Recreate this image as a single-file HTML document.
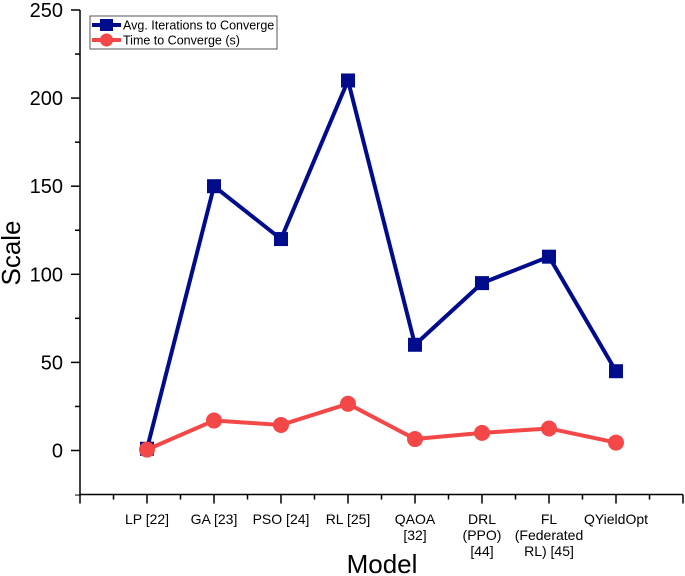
<!DOCTYPE html>
<html><head><meta charset="utf-8">
<style>
html,body{margin:0;padding:0;background:#fff;}
svg{display:block;font-family:"Liberation Sans",Arial,sans-serif;}
</style></head>
<body>
<svg id="chart" width="685" height="576" viewBox="0 0 685 576" xmlns="http://www.w3.org/2000/svg">
<g id="axes"></g>
<g id="series"></g>
<g>
  <rect x="90" y="16" width="187" height="33" fill="#fff" stroke="#555" stroke-width="1"/>
  <g>
    <line x1="92" y1="25" x2="121" y2="25" stroke="#000c8c" stroke-width="4"/>
    <rect x="100" y="19" width="13" height="12" fill="#000c8c"/>
    <text x="123" y="29.5" font-size="12.5" fill="#000">Avg. Iterations to Converge</text>
  </g>
  <g>
    <line x1="92" y1="40" x2="121" y2="40" stroke="#f44848" stroke-width="4"/>
    <circle cx="106.5" cy="40" r="6.5" fill="#f44848"/>
    <text x="123" y="44.5" font-size="12.5" fill="#000">Time to Converge (s)</text>
  </g>
</g>
<text transform="translate(20,253) rotate(-90)" text-anchor="middle" font-size="26" fill="#000">Scale</text>
<text x="382" y="573" text-anchor="middle" font-size="26" fill="#000">Model</text>
</svg>
<script>
const categories = [["LP [22]"],["GA [23]"],["PSO [24]"],["RL [25]"],["QAOA","[32]"],["DRL","(PPO)","[44]"],["FL","(Federated","RL) [45]"],["QYieldOpt"]];
const iterations = [1,150,120,210,60,95,110,45];
const timeSec = [0.5,17,14.5,26.5,6.5,10,12.5,4.5];
const yTicks = [0,50,100,150,200,250];

const NS = "http://www.w3.org/2000/svg";
const x0 = 80, x1 = 683, yTop = 10, yZero = 450.5;
function xs(i){ return x0 + (i+1)*(x1-x0)/9; }
function ys(v){ return yZero - v*(yZero-yTop)/250; }
const yBottom = ys(-25);
function mk(tag, attrs, parent){
  const e = document.createElementNS(NS, tag);
  for (const k in attrs) e.setAttribute(k, attrs[k]);
  parent.appendChild(e); return e;
}
const axes = document.getElementById('axes');
const series = document.getElementById('series');

let yl = mk('line',{x1:x0,y1:yTop,x2:x0,y2:yBottom,stroke:'#000','stroke-width':1.5},axes);


let xl = mk('line',{x1:x0-0.75,y1:yBottom,x2:x1,y2:yBottom,stroke:'#000','stroke-width':1.5},axes);



yTicks.forEach(function(v){
  const y = ys(v);
  const t = mk('line',{x1:x0-9,y1:y,x2:x0,y2:y,stroke:'#000','stroke-width':1.5},axes);
  
  
  const lb = mk('text',{x:63,y:y+7,'text-anchor':'end','font-size':20,fill:'#000'},axes);
  lb.textContent = v;
  
  
  if (v < 250) {
    const m = mk('line',{x1:x0-5,y1:ys(v+25),x2:x0,y2:ys(v+25),stroke:'#000','stroke-width':1.5},axes);
    
    
  }
});
const m0 = mk('line',{x1:x0-5,y1:ys(-25)+0.5,x2:x0,y2:ys(-25)+0.5,stroke:'#000','stroke-width':1},axes);



for (let k=0;k<=18;k++){
  const x = x0 + k*(x1-x0)/18;
  const major = k%2===0;
  const t = mk('line',{x1:x,y1:yBottom,x2:x,y2:yBottom+(major?9:5),stroke:'#000','stroke-width':1.5},axes);
  
  
}
categories.forEach(function(lines,i){
  const tx = mk('text',{x:xs(i),'text-anchor':'middle','font-size':14,fill:'#000'},axes);
  
  
  lines.forEach(function(s,j){
    const sp = mk('tspan',{x:xs(i),y:524+j*16},tx);
    sp.textContent = s;
  });
});

function drawSeries(vals,color,name,shape){
  const g = mk('g',{},series);
  
  
  const pts = vals.map(function(v,i){ return xs(i)+','+ys(v); }).join(' ');
  const pl = mk('polyline',{points:pts,fill:'none',stroke:color,'stroke-width':4,'stroke-linejoin':'round'},g);
  
  
  vals.forEach(function(v,i){
    let m;
    if (shape==='square') m = mk('rect',{x:xs(i)-7,y:ys(v)-7,width:14,height:14,fill:color},g);
    else m = mk('circle',{cx:xs(i),cy:ys(v),r:8,fill:color},g);
    
    
  });
}
drawSeries(iterations,'#000c8c','iterations-series','square');
drawSeries(timeSec,'#f44848','time-series','circle');
</script>
</body></html>
